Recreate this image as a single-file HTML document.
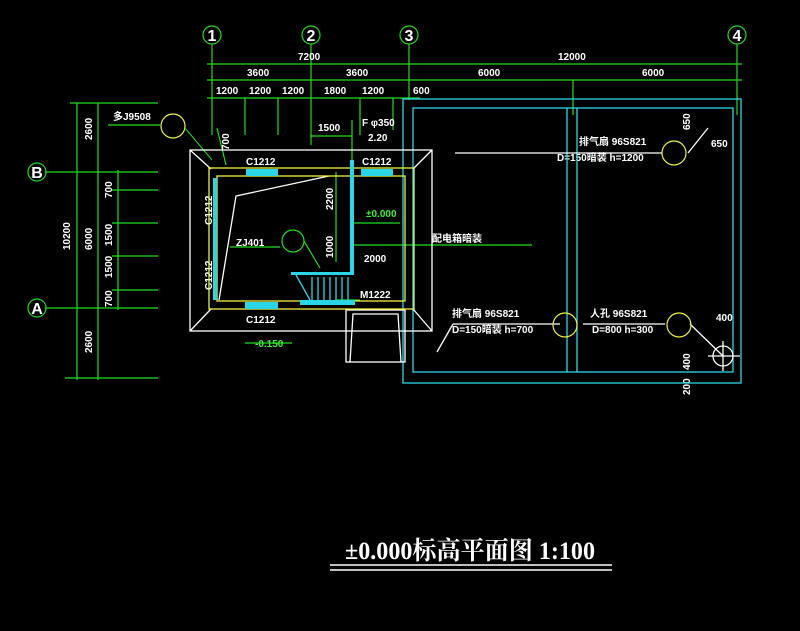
<!DOCTYPE html>
<html><head><meta charset="utf-8"><style>
html,body{margin:0;padding:0;background:#000;}
svg{display:block}
text{font-family:"Liberation Sans","Noto Sans CJK SC",sans-serif;font-size:10px;}
.g{stroke:#1fdc1f;stroke-width:1.2;fill:none}
.w{stroke:#fff;stroke-width:1.3;fill:none}
.c{stroke:#2ad6e6;stroke-width:1.3;fill:none}
.y{stroke:#f0f040;stroke-width:1.3;fill:none}
.tw{fill:#fff;font-weight:bold}
.tg{fill:#3df03d;font-weight:bold}
.bl text{fill:#fff;font-size:16px;font-weight:bold;text-anchor:middle}
</style></head><body>
<svg width="800" height="631" viewBox="0 0 800 631">
<rect width="800" height="631" fill="#000"/>
<g class="g">
<circle cx="212" cy="35" r="9"/><circle cx="311" cy="35" r="9"/><circle cx="409" cy="35" r="9"/><circle cx="737" cy="35" r="9"/>
<line x1="212" y1="44" x2="212" y2="135"/><line x1="311" y1="44" x2="311" y2="145"/><line x1="409" y1="44" x2="409" y2="100"/><line x1="737" y1="44" x2="737" y2="115"/>
<line x1="207" y1="64" x2="742" y2="64"/>
<line x1="207" y1="80" x2="742" y2="80"/>
<line x1="207" y1="98" x2="420" y2="98"/>
<line x1="245" y1="98" x2="245" y2="135"/><line x1="278" y1="98" x2="278" y2="135"/>
<line x1="360" y1="98" x2="360" y2="135"/><line x1="393" y1="98" x2="393" y2="130"/>
<line x1="573" y1="80" x2="573" y2="115"/>
<line x1="311" y1="136" x2="352" y2="136"/><line x1="352" y1="120" x2="352" y2="165"/>
<line x1="77" y1="103" x2="77" y2="380"/><line x1="98" y1="103" x2="98" y2="380"/><line x1="118" y1="170" x2="118" y2="310"/>
<line x1="70" y1="103" x2="158" y2="103"/><line x1="65" y1="378" x2="158" y2="378"/>
<line x1="45" y1="172" x2="158" y2="172"/><line x1="45" y1="308" x2="158" y2="308"/>
<line x1="112" y1="190" x2="158" y2="190"/><line x1="112" y1="223" x2="158" y2="223"/><line x1="112" y1="256" x2="158" y2="256"/><line x1="112" y1="290" x2="158" y2="290"/>
<circle cx="37" cy="172" r="9"/><circle cx="37" cy="308" r="9"/>
<line x1="336" y1="172" x2="336" y2="262"/><line x1="353" y1="245" x2="412" y2="245"/><line x1="353" y1="223" x2="400" y2="223"/>
<line x1="412" y1="245" x2="532" y2="245"/>
<line x1="230" y1="247" x2="280" y2="247"/><circle cx="293" cy="241" r="11"/><line x1="304" y1="241" x2="320" y2="268"/>
<line x1="108" y1="125" x2="160" y2="125"/>
<line x1="335" y1="300" x2="360" y2="300"/>
<line x1="245" y1="343" x2="292" y2="343"/>
<line x1="217" y1="128" x2="226" y2="165"/>
</g>
<g class="bl"><text x="212" y="41">1</text><text x="311" y="41">2</text><text x="409" y="41">3</text><text x="737" y="41">4</text><text x="37" y="178">B</text><text x="37" y="314">A</text></g>
<circle cx="173" cy="126" r="12" stroke="#f0f040" stroke-width="1.2" fill="none"/>
<line x1="185" y1="128" x2="212" y2="160" stroke="#1fdc1f"/>
<g class="tw">
<text x="298" y="60">7200</text><text x="558" y="60">12000</text>
<text x="247" y="76">3600</text><text x="346" y="76">3600</text><text x="478" y="76">6000</text><text x="642" y="76">6000</text>
<text x="216" y="94">1200</text><text x="249" y="94">1200</text><text x="282" y="94">1200</text><text x="324" y="94">1800</text><text x="362" y="94">1200</text><text x="413" y="94">600</text>
<text x="318" y="131">1500</text><text x="362" y="126">F φ350</text><text x="368" y="141">2.20</text>
<text x="113" y="120">多J9508</text>
<text x="246" y="165">C1212</text><text x="362" y="165">C1212</text><text x="246" y="323">C1212</text>
<text x="236" y="246">ZJ401</text><text x="364" y="262">2000</text><text x="360" y="298">M1222</text>
<text x="432" y="242">配电箱暗装</text>
<text x="579" y="145">排气扇 96S821</text><text x="557" y="161">D=150暗装 h=1200</text>
<text x="452" y="317">排气扇 96S821</text><text x="452" y="333">D=150暗装 h=700</text>
<text x="590" y="317">人孔 96S821</text><text x="592" y="333">D=800 h=300</text>
<text x="711" y="147">650</text><text x="716" y="321">400</text>
<g transform="rotate(-90)"><text x="-140" y="92">2600</text><text x="-250" y="70">10200</text><text x="-250" y="92">6000</text><text x="-353" y="92">2600</text>
<text x="-198" y="112">700</text><text x="-246" y="112">1500</text><text x="-278" y="112">1500</text><text x="-307" y="112">700</text>
<text x="-225" y="212">C1212</text><text x="-290" y="212">C1212</text><text x="-210" y="333">2200</text><text x="-258" y="333">1000</text><text x="-150" y="229">700</text>
<text x="-130" y="690">650</text><text x="-370" y="690">400</text><text x="-395" y="690">200</text></g>
</g>
<g class="tg"><text x="366" y="217">±0.000</text><text x="255" y="347">-0.150</text></g>
<rect x="403" y="99" width="338" height="284" class="c"/>
<rect x="413" y="108" width="320" height="264" class="c"/>
<line x1="567" y1="108" x2="567" y2="372" class="c"/><line x1="577" y1="108" x2="577" y2="372" class="c"/>
<g class="w"><line x1="455" y1="153" x2="662" y2="153"/><line x1="453" y1="324" x2="560" y2="324"/><line x1="583" y1="324" x2="665" y2="324"/>
<line x1="688" y1="153" x2="708" y2="128"/><line x1="453" y1="324" x2="437" y2="352"/><line x1="690" y1="324" x2="723" y2="356"/>
<circle cx="723" cy="356" r="10"/><line x1="708" y1="356" x2="740" y2="356"/><line x1="723" y1="341" x2="723" y2="371"/></g>
<g stroke="#f0f040" stroke-width="1.2" fill="none"><circle cx="674" cy="153" r="12"/><circle cx="565" cy="325" r="12"/><circle cx="679" cy="325" r="12"/></g>
<rect x="190" y="150" width="242" height="181" class="w"/>
<g class="w"><line x1="190" y1="150" x2="211" y2="169"/><line x1="432" y1="150" x2="413" y2="169"/><line x1="190" y1="331" x2="211" y2="309"/><line x1="432" y1="331" x2="413" y2="309"/>
<polyline points="219,300 236,196 329,176"/>
<rect x="346" y="310" width="59" height="52"/><polyline points="350,362 353,314 398,314 401,362"/></g>
<rect x="209" y="168" width="205" height="141" class="y"/>
<rect x="217" y="176" width="188" height="125" class="y"/>
<g fill="#2ad6e6"><rect x="246" y="169" width="32" height="7"/><rect x="361" y="169" width="32" height="7"/><rect x="245" y="302" width="33" height="7"/><rect x="213" y="178" width="4" height="122"/>
<rect x="350" y="160" width="4" height="114"/><rect x="291" y="272" width="63" height="3"/><rect x="300" y="300" width="55" height="5"/></g>
<g class="c"><line x1="296" y1="275" x2="310" y2="300"/><line x1="312" y1="277" x2="312" y2="300"/><line x1="318" y1="277" x2="318" y2="300"/><line x1="324" y1="277" x2="324" y2="300"/><line x1="330" y1="277" x2="330" y2="300"/><line x1="336" y1="277" x2="336" y2="300"/><line x1="342" y1="277" x2="342" y2="300"/><line x1="348" y1="277" x2="348" y2="300"/></g>
<text x="345" y="559" textLength="250" lengthAdjust="spacingAndGlyphs" style="font-size:25px;font-weight:bold;font-family:'Liberation Serif','Noto Serif CJK SC',serif" fill="#fff">±0.000标高平面图 1:100</text>
<line x1="330" y1="565" x2="612" y2="565" stroke="#fff" stroke-width="1.5"/>
<line x1="330" y1="570" x2="612" y2="570" stroke="#fff" stroke-width="1.5"/>
</svg>
</body></html>
